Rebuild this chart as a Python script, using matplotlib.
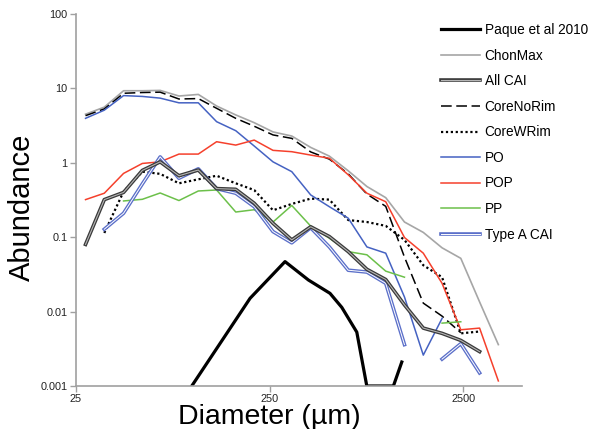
import numpy as np
import matplotlib
matplotlib.use('Agg')
from matplotlib import pyplot as plt
from matplotlib import patheffects as pe
from matplotlib.ticker import FixedLocator, NullLocator

plt.rcParams['font.family'] = ['Liberation Sans', 'DejaVu Sans']

nan = np.nan

# bin diameters (um)
diam = [28, 35, 44, 55, 68, 85, 107, 133, 167, 208, 260, 325, 407, 508,
        636, 794, 993, 1241, 1552, 1940, 2424, 3031, 3788]

chonmax = [4.5, 5.6, 9.3, 9.3, 9.4, 7.9, 8.3, 5.8, 4.4, 3.46, 2.6, 2.29, 1.61,
           1.23, 0.78, 0.48, 0.34, 0.16, 0.116, 0.072, 0.052, 0.0135, 0.0036]
all_cai = [0.080, 0.32, 0.40, 0.79, 1.03, 0.67, 0.80, 0.45, 0.44, 0.286, 0.154,
           0.092, 0.138, 0.102, 0.064, 0.037, 0.027, 0.0123, 0.0060, 0.0051,
           0.0041, 0.0029, nan]
core_no_rim = [4.3, 5.3, 8.6, 8.8, 8.9, 7.2, 7.3, 5.4, 3.96, 3.1, 2.37, 2.13,
               1.40, 1.12, 0.71, 0.38, 0.26, 0.054, 0.013, 0.0087, 0.0052, nan, nan]
core_w_rim = [nan, 0.114, 0.41, 0.76, 0.71, 0.53, 0.60, 0.67, 0.53, 0.43, 0.23,
              0.28, 0.33, 0.32, 0.17, 0.16, 0.142, 0.092, 0.042, 0.029, 0.0051,
              0.0054, nan]
po = [3.96, 5.1, 8.0, 7.8, 7.4, 6.4, 6.4, 3.57, 2.70, 1.68, 1.03, 0.76, 0.37,
      0.257, 0.18, 0.074, 0.061, 0.0157, 0.0026, 0.0081, nan, nan, nan]
pop = [0.32, 0.39, 0.72, 0.98, 1.03, 1.31, 1.31, 1.92, 1.73, 2.02, 1.47, 1.41,
       1.27, 1.15, 0.69, 0.39, 0.30, 0.099, 0.061, 0.024, 0.0057, 0.0060, 0.00117]
pp = [nan, nan, 0.307, 0.323, 0.393, 0.311, 0.418, 0.431, 0.218, 0.234, 0.160,
      0.267, 0.141, 0.097, 0.064, 0.058, 0.035, 0.029, nan, 0.0070, 0.0073, nan, nan]
type_a = [nan, 0.128, 0.21, 0.52, 1.20, 0.62, 0.83, 0.45, 0.39, 0.257, 0.119,
          0.084, 0.134, 0.074, 0.036, 0.034, 0.024, 0.0036, nan, 0.0023, 0.0037,
          0.0015, nan]

paque_d = [99, 198, 300, 396, 512, 589, 704, 793, 1088, 1202]
paque = [0.001, 0.0151, 0.047, 0.0266, 0.0176, 0.0114, 0.0053, 0.001, 0.001, 0.0021]

fig = plt.figure(figsize=(5.99, 4.29), dpi=100)
ax = fig.add_axes([76/599, 43/429, 445.7/599, 372/429])
ax.set_xscale('log')
ax.set_yscale('log')

ax.plot(diam, chonmax, color='#a6a6a6', lw=1.2, label='ChonMax')
ax.plot(diam, core_w_rim, color='black', lw=1.6, linestyle=(0, (1, 1.2)), label='CoreWRim')
ax.plot(diam, core_no_rim, color='black', lw=1.1, linestyle=(0, (7, 3)), label='CoreNoRim')
ax.plot(diam, po, color='#4562c2', lw=1.1, label='PO')
ax.plot(diam, pop, color='#f5402c', lw=1.1, label='POP')
ax.plot(diam, pp, color='#6cc04a', lw=1.1, label='PP')
ax.plot(diam, type_a, color='white', lw=0.7, label='Type A CAI',
        path_effects=[pe.Stroke(linewidth=2.6, foreground='#5b6fc9'), pe.Normal()])
ax.plot(diam, all_cai, color='#b5b5b5', lw=0.8, label='All CAI',
        path_effects=[pe.Stroke(linewidth=2.6, foreground='#3a3a3a'), pe.Normal()])
ax.plot(paque_d, paque, color='black', lw=2.3, label='Paque et al 2010')

ax.set_xlim(25, 5000)
ax.set_ylim(0.001, 100)
ax.xaxis.set_major_locator(FixedLocator([25, 250, 2500]))
ax.xaxis.set_minor_locator(NullLocator())
ax.set_xticklabels(['25', '250', '2500'])
ax.yaxis.set_major_locator(FixedLocator([0.001, 0.01, 0.1, 1, 10, 100]))
ax.yaxis.set_minor_locator(NullLocator())
ax.set_yticklabels(['0.001', '0.01', '0.1', '1', '10', '100'])

for s in ['top', 'right']:
    ax.spines[s].set_visible(False)
for s in ['left', 'bottom']:
    ax.spines[s].set_color('#a0a0a0')
    ax.spines[s].set_linewidth(1.2)
ax.tick_params(direction='out', length=4, width=1.0, color='#a0a0a0',
               labelsize=7.8, labelcolor='#222222', pad=2)
ax.tick_params(axis='x', pad=1.5)

fig.text(22/599, 1 - 207/429, 'Abundance', rotation=90, ha='center', va='center', fontsize=21)
fig.text(269/599, 4.5/429, 'Diameter (µm)', ha='center', va='baseline', fontsize=20.5)

handles, labels = ax.get_legend_handles_labels()
order = ['Paque et al 2010', 'ChonMax', 'All CAI', 'CoreNoRim', 'CoreWRim',
         'PO', 'POP', 'PP', 'Type A CAI']
hmap = dict(zip(labels, handles))
leg = fig.legend([hmap[k] for k in order], order, loc='upper left',
                 bbox_to_anchor=(441/599, 1 - 23/429), frameon=False,
                 fontsize=9.8, handlelength=2.9, handletextpad=0.3,
                 labelspacing=0.85, borderpad=0, borderaxespad=0)

plt.savefig('out.png', dpi=100)
